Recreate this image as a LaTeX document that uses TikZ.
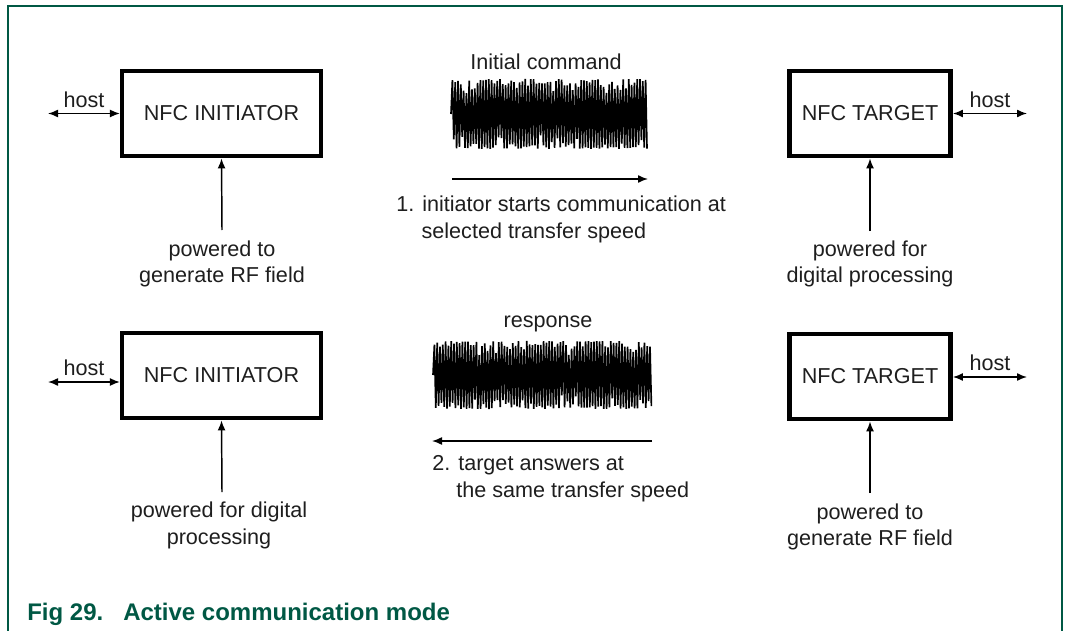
\documentclass[tikz,border=0pt]{standalone}
\usepackage{fontspec}
\setmainfont{Liberation Sans}
\usetikzlibrary{arrows.meta}
\definecolor{nxpgreen}{RGB}{0,88,68}
\definecolor{txt}{RGB}{30,30,30}
\newcommand\mainsz{\fontsize{16.2}{20}\selectfont}
\begin{document}
\begin{tikzpicture}[x=0.75pt,y=-0.75pt,
  box/.style={draw=black, line width=3.4pt, minimum height=64pt, inner sep=0pt, font=\mainsz, text=txt},
  lbl/.style={inner sep=0pt, font=\mainsz, text=txt, align=center},
  conn/.style={line width=1.1pt, -{Latex[length=7.5pt,width=6pt]}},
  biconn/.style={line width=1.1pt, {Latex[length=7.5pt,width=6pt]}-{Latex[length=7.5pt,width=6pt]}},
  wave/.style={line width=1.25pt, black, line join=miter, miter limit=2}]
\useasboundingbox (0,0) rectangle (1066,631);
% frame
\draw[nxpgreen, line width=1.3pt] (8,631) -- (8,6) -- (1062,6) -- (1062,631);

% ---------- top row ----------
\node[box, minimum width=149pt] (i1) at (221.5,113.5) {NFC INITIATOR};
\node[box, minimum width=121pt] (t1) at (870,113.5) {NFC TARGET};
\coordinate (h1) at (48,113.5);
\coordinate (h2) at (1027,113.5);
\draw[biconn] (h1) -- (i1.west) node[lbl, midway, above=4pt] (hl1) {host};
\draw[biconn] (t1.east) -- (h2) node[lbl, midway, above=4pt] (hl2) {host};
\coordinate (p1) at (222,230);
\coordinate (p2) at (870,231);
\draw[conn] (p1) -- (i1.south);
\draw[conn] (p2) -- (t1.south);
\node[lbl] (l1) at (222,264) {powered to\\generate RF field};
\node[lbl] (l2) at (870,264) {powered for\\digital processing};

\node[lbl] (c1) at (546,62) {Initial command};
\pgfmathsetseed{7}
\draw[wave] (451,114) \foreach \i in {1,...,140} { -- ({451+\i*1.4},{114+(1-2*mod(\i,2))*35*(1-0.45*rnd*rnd)}) };
\coordinate (a1s) at (452,179);
\coordinate (a1e) at (648,179);
\draw[conn] (a1s) -- (a1e);
\node[lbl, align=left, anchor=west] (s1) at (396,219.5) {1. initiator starts communication at\\\hspace{19pt}selected transfer speed};

% ---------- bottom row ----------
\node[box, minimum width=149pt] (i2) at (221.5,375.5) {NFC INITIATOR};
\node[box, minimum width=121pt] (t2) at (870,376.5) {NFC TARGET};
\coordinate (h3) at (48,382);
\coordinate (h4) at (1027,377);
\draw[biconn] (h3) -- (i2.west |- h3) node[lbl, midway, above=4pt] (hl3) {host};
\draw[biconn] (t2.east |- h4) -- (h4) node[lbl, midway, above=4pt] (hl4) {host};
\coordinate (p3) at (222,492);
\coordinate (p4) at (870,493);
\draw[conn] (p3) -- (i2.south);
\draw[conn] (p4) -- (t2.south);
\node[lbl] (l3) at (219,525.5) {powered for digital\\processing};
\node[lbl] (l4) at (870,527) {powered to\\generate RF field};

\node[lbl] (c2) at (548,324) {response};
\pgfmathsetseed{11}
\draw[wave] (433,375) \foreach \i in {1,...,156} { -- ({433+\i*1.4},{375+(1-2*mod(\i,2))*34*(1-0.45*rnd*rnd)}) };
\coordinate (a2s) at (652,441);
\coordinate (a2e) at (432,441);
\draw[conn] (a2s) -- (a2e);
\node[lbl, align=left, anchor=west] (s2) at (432,479) {2. target answers at\\\hspace{18pt}the same transfer speed};

% caption
\node[inner sep=0pt, anchor=base west, text=nxpgreen, font=\fontsize{18}{22}\selectfont\bfseries] (cap) at (27,620) {Fig 29.\hspace{15pt}Active communication mode};
\end{tikzpicture}
\end{document}
